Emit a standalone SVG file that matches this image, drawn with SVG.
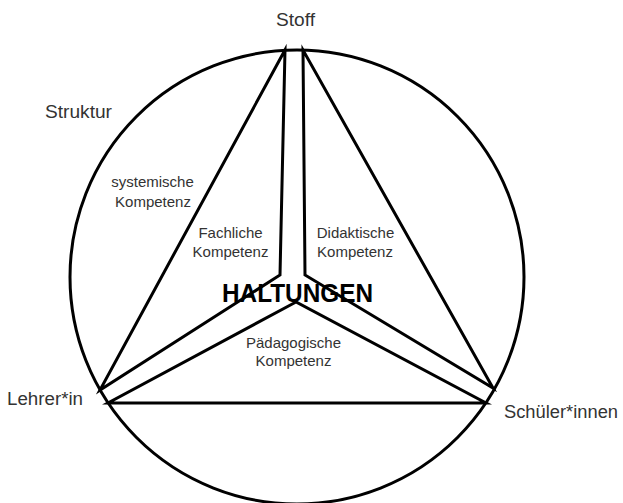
<svg xmlns="http://www.w3.org/2000/svg" width="623" height="503" viewBox="0 0 623 503">
  <style>
    .ln { fill: none; stroke: #000; stroke-width: 3; stroke-linejoin: miter; stroke-miterlimit: 10; }
    .outer { font-family: "Liberation Sans", Arial, sans-serif; font-size: 18px; fill: #333; }
    .inner { font-family: "Liberation Sans", Arial, sans-serif; font-size: 15px; fill: #333; text-anchor: middle; }
    .core { font-family: "Liberation Sans", Arial, sans-serif; font-size: 25px; font-weight: bold; fill: #000; text-anchor: middle; }
  </style>
  <rect width="623" height="503" fill="#fff"/>
  <g id="circle">
    <circle class="ln" cx="297" cy="277" r="227"/>
  </g>
  <g id="connectors">
    <polygon id="region-fachlich" class="ln" points="285,50 280,275 100,390"/>
    <polygon id="region-didaktisch" class="ln" points="303,50 305,275 493,388"/>
    <polygon id="region-paedagogisch" class="ln" points="296,302 108,403 486,403"/>
  </g>
  <g id="stoff"><text class="outer" x="276" y="26" textLength="39" lengthAdjust="spacingAndGlyphs">Stoff</text></g>
  <g id="struktur"><text class="outer" x="45" y="118" textLength="67" lengthAdjust="spacingAndGlyphs">Struktur</text></g>
  <g id="lehrer"><text class="outer" x="7" y="405" textLength="76" lengthAdjust="spacingAndGlyphs">Lehrer*in</text></g>
  <g id="schueler"><text class="outer" x="504" y="418" textLength="114" lengthAdjust="spacingAndGlyphs">Schüler*innen</text></g>
  <g id="systemisch">
    <text class="inner" x="152.5" y="187">systemische</text>
    <text class="inner" x="153" y="207">Kompetenz</text>
  </g>
  <g id="fachlich">
    <text class="inner" x="230.5" y="238">Fachliche</text>
    <text class="inner" x="230.5" y="257">Kompetenz</text>
  </g>
  <g id="didaktisch">
    <text class="inner" x="355.5" y="238">Didaktische</text>
    <text class="inner" x="355" y="257">Kompetenz</text>
  </g>
  <g id="paedagogisch">
    <text class="inner" x="293.5" y="348">Pädagogische</text>
    <text class="inner" x="293.5" y="366">Kompetenz</text>
  </g>
  <g id="haltungen">
    <text class="core" x="297.5" y="302" textLength="151" lengthAdjust="spacingAndGlyphs">HALTUNGEN</text>
  </g>
</svg>
